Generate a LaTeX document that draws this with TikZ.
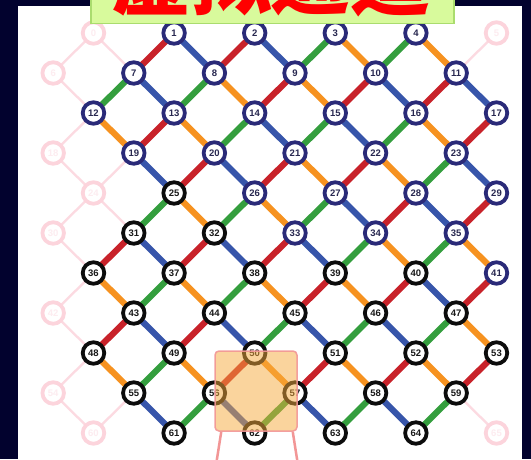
\documentclass[tikz,border=0pt]{standalone}
\usepackage{fontspec}
\setmainfont{Liberation Sans}
\newfontfamily\cjk{Noto Sans CJK SC}
\pgfdeclarelayer{back}
\pgfdeclarelayer{edges}
\pgfdeclarelayer{front}
\pgfsetlayers{back,edges,main,front}
\definecolor{navybg}{RGB}{2,2,46}
\definecolor{ered}{RGB}{200,34,42}
\definecolor{eblue}{RGB}{55,85,170}
\definecolor{egreen}{RGB}{52,158,62}
\definecolor{eorange}{RGB}{246,146,32}
\definecolor{ringnavy}{RGB}{42,42,120}
\definecolor{ringblack}{RGB}{12,12,12}
\definecolor{ghostpink}{RGB}{252,212,220}
\definecolor{ghostline}{RGB}{252,218,225}
\definecolor{ghosttext}{RGB}{253,236,240}
\definecolor{titlegreen}{RGB}{216,250,156}
\definecolor{titleborder}{RGB}{170,220,110}
\definecolor{hlfill}{RGB}{247,170,60}
\definecolor{hlborder}{RGB}{242,150,150}
\definecolor{numnavy}{RGB}{40,40,80}
\definecolor{numblack}{RGB}{25,25,25}
\begin{document}
\begin{tikzpicture}[x=1pt,y=-1pt,
  nd/.style={circle, draw, line width=3.8pt, fill=white, minimum size=21.5pt, inner sep=0pt, font=\bfseries\fontsize{9.5}{9.5}\selectfont},
  bnode/.style={nd, draw=ringnavy, text=numnavy},
  knode/.style={nd, draw=ringblack, text=numblack},
  gnode/.style={nd, draw=ghostpink, text=ghosttext},
  lnk/.style={line width=6.2pt},
  glnk/.style={line width=2.3pt, draw=ghostline},
  legline/.style={line width=2.5pt, draw=hlborder}
]
\useasboundingbox (0,0) rectangle (531,459);
\begin{pgfonlayer}{back}
  \fill[navybg] (0,0) rectangle (531,459);
  \fill[white] (18,6) rectangle (522,459);
\end{pgfonlayer}
% nodes: number / column / row / style
\foreach \n/\c/\r/\s in {
  0/1/0/gnode, 5/11/0/gnode,
  1/3/0/bnode, 2/5/0/bnode, 3/7/0/bnode, 4/9/0/bnode,
  6/0/1/gnode,
  7/2/1/bnode, 8/4/1/bnode, 9/6/1/bnode, 10/8/1/bnode, 11/10/1/bnode,
  12/1/2/bnode, 13/3/2/bnode, 14/5/2/bnode, 15/7/2/bnode, 16/9/2/bnode, 17/11/2/bnode,
  18/0/3/gnode,
  19/2/3/bnode, 20/4/3/bnode, 21/6/3/bnode, 22/8/3/bnode, 23/10/3/bnode,
  24/1/4/gnode,
  25/3/4/knode, 26/5/4/bnode, 27/7/4/bnode, 28/9/4/bnode, 29/11/4/bnode,
  30/0/5/gnode,
  31/2/5/knode, 32/4/5/knode, 33/6/5/bnode, 34/8/5/bnode, 35/10/5/bnode,
  36/1/6/knode, 37/3/6/knode, 38/5/6/knode, 39/7/6/knode, 40/9/6/knode, 41/11/6/bnode,
  42/0/7/gnode,
  43/2/7/knode, 44/4/7/knode, 45/6/7/knode, 46/8/7/knode, 47/10/7/knode,
  48/1/8/knode, 49/3/8/knode, 50/5/8/knode, 51/7/8/knode, 52/9/8/knode, 53/11/8/knode,
  54/0/9/gnode,
  55/2/9/knode, 56/4/9/knode, 57/6/9/knode, 58/8/9/knode, 59/10/9/knode,
  60/1/10/gnode, 65/11/10/gnode,
  61/3/10/knode, 62/5/10/knode, 63/7/10/knode, 64/9/10/knode}
  \node[\s] (n\n) at ({53.2+40.3*\c},{33+40*\r}) {\n};
\begin{pgfonlayer}{edges}
  \foreach \a/\b in {0/7, 0/6, 6/12, 5/11, 18/12, 18/24, 24/19, 24/31, 24/30, 30/36, 42/36, 42/48, 54/48, 54/60, 60/55, 65/59}
    \draw[glnk] (n\a.center) -- (n\b.center);
  \foreach \a/\b in {1/7, 2/8, 9/14, 10/15, 11/16, 13/19, 20/25, 17/23, 21/26, 22/27, 28/34, 29/35, 31/36, 32/37, 33/38, 43/48, 44/49, 39/45, 40/46, 41/47, 51/57, 52/58, 53/59, 50/56}
    \draw[lnk, ered] (n\a.center) -- (n\b.center);
  \foreach \a/\b in {1/8, 2/9, 7/13, 10/16, 11/17, 14/21, 15/22, 19/25, 20/26, 23/29, 27/34, 28/35, 31/37, 32/38, 33/39, 43/49, 44/50, 40/47, 45/51, 46/52, 55/61, 57/63, 58/64, 56/62}
    \draw[lnk, eblue] (n\a.center) -- (n\b.center);
  \foreach \a/\b in {3/9, 4/10, 7/12, 8/13, 14/20, 15/21, 16/22, 23/28, 25/31, 26/32, 27/33, 34/39, 35/40, 37/43, 38/44, 45/50, 46/51, 47/52, 49/55, 56/61, 58/63, 59/64, 57/62}
    \draw[lnk, egreen] (n\a.center) -- (n\b.center);
  \foreach \a/\b in {3/10, 4/11, 8/14, 9/15, 12/19, 13/20, 16/23, 21/27, 22/28, 25/32, 26/33, 34/40, 35/41, 36/43, 37/44, 38/45, 39/46, 47/53, 48/55, 49/56, 51/58, 52/59, 50/57}
    \draw[lnk, eorange] (n\a.center) -- (n\b.center);
\end{pgfonlayer}
\begin{pgfonlayer}{front}
  \node[draw=hlborder, fill=hlfill, fill opacity=0.5, draw opacity=0.9, rounded corners=4pt,
        line width=1.5pt, minimum width=82pt, minimum height=80pt, inner sep=0pt] (hl) at (256,391) {};
  \coordinate (legL) at (216.5,462);
  \coordinate (legR) at (297.5,462);
  \draw[legline] ([xshift=7pt]hl.south west) -- (legL);
  \draw[legline] ([xshift=-5pt]hl.south east) -- (legR);
  \node[draw=titleborder, fill=titlegreen, line width=1.5pt, minimum width=363pt,
        minimum height=50pt, anchor=south west, inner sep=0pt] (tb) at (90,24) {};
  \begin{scope}
    \clip (0,0) rectangle (531,459);
    \node[anchor=base, text=red, inner sep=0pt,
          font=\cjk\bfseries\fontsize{80}{80}\selectfont] (tt) at (271,8) {虚拟通道};
  \end{scope}
\end{pgfonlayer}
\end{tikzpicture}
\end{document}
